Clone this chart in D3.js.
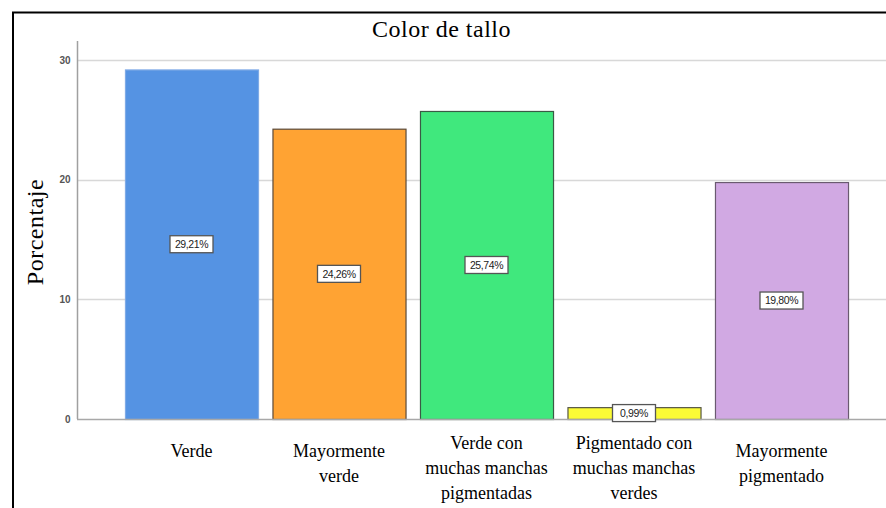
<!DOCTYPE html>
<html>
<head>
<meta charset="utf-8">
<script src="https://cdn.jsdelivr.net/npm/d3@7"></script>
<style>
  html, body { margin: 0; padding: 0; background: #fff; }
  svg { display: block; }
  .serif { font-family: "Liberation Serif", "Times New Roman", serif; }
  .sans { font-family: "Liberation Sans", Arial, sans-serif; }
</style>
</head>
<body>
<script>
const categories = [
  ["Verde"],
  ["Mayormente", "verde"],
  ["Verde con", "muchas manchas", "pigmentadas"],
  ["Pigmentado con", "muchas manchas", "verdes"],
  ["Mayormente", "pigmentado"]
];
const values = [29.21, 24.26, 25.74, 0.99, 19.80];
const valueLabels = ["29,21%", "24,26%", "25,74%", "0,99%", "19,80%"];
const colors = ["#5593e3", "#ffa333", "#40e87d", "#fbfb35", "#d1a9e3"];
const strokes = ["#7faae6", "#5a4a3a", "#3a5a45", "#555544", "#6a5a70"];
const yTicks = [0, 10, 20, 30];

const W = 886, H = 508;
const svg = d3.select("body").append("svg").attr("width", W).attr("height", H);

// frame
svg.append("line").attr("x1", 13).attr("y1", 12).attr("x2", 13).attr("y2", H).attr("stroke", "#000").attr("stroke-width", 2);
svg.append("line").attr("x1", 12).attr("y1", 12.5).attr("x2", W).attr("y2", 12.5).attr("stroke", "#000").attr("stroke-width", 2);

const x = d3.scaleBand()
  .domain(d3.range(categories.length))
  .range([117.75, 855.25])
  .paddingInner(0.098)
  .paddingOuter(0.049);

const y = d3.scaleLinear().domain([0, 30]).range([419, 60]);

// gridlines
svg.append("g").selectAll("line").data(yTicks.filter(d => d > 0)).join("line")
  .attr("x1", 77).attr("x2", W)
  .attr("y1", d => Math.round(y(d)) + 0.5).attr("y2", d => Math.round(y(d)) + 0.5)
  .attr("stroke", "#d8d8d8").attr("stroke-width", 1.5);

// y axis
const yAxis = d3.axisLeft(y).tickValues(yTicks).tickSize(0).tickPadding(7);
const gy = svg.append("g").attr("transform", "translate(77.5,0)").call(yAxis);
gy.select(".domain").remove();
gy.attr("font-family", null);
gy.selectAll("text")
  .attr("class", "sans")
  .style("font-size", "10px").style("font-weight", "bold").attr("fill", "#555");
svg.append("line").attr("x1", 77.5).attr("x2", 77.5).attr("y1", 41).attr("y2", 419)
  .attr("stroke", "#a0a0a0").attr("stroke-width", 1.5);

// bars
svg.append("g").selectAll("rect").data(values).join("rect")
  .attr("x", (d, i) => x(i) + 0.5)
  .attr("y", d => y(d) + 0.5)
  .attr("width", x.bandwidth())
  .attr("height", d => y(0) - y(d))
  .attr("fill", (d, i) => colors[i])
  .attr("stroke", (d, i) => strokes[i])
  .attr("stroke-width", 1.2);

// baseline
svg.append("line").attr("x1", 77).attr("x2", W).attr("y1", 419.5).attr("y2", 419.5)
  .attr("stroke", "#a8a8a8").attr("stroke-width", 1.5);

// value labels
const lab = svg.append("g").selectAll("g").data(values).join("g")
  .attr("transform", (d, i) => `translate(${x(i) + x.bandwidth() / 2},${y(d / 2)})`);
lab.append("rect")
  .attr("x", -21.5).attr("y", -8.5).attr("width", 43).attr("height", 17)
  .attr("fill", "#fff").attr("stroke", "#555").attr("stroke-width", 1.3);
lab.append("text")
  .attr("class", "sans")
  .attr("text-anchor", "middle").attr("dy", "0.36em")
  .style("font-size", "10.5px").attr("fill", "#222")
  .attr("letter-spacing", -0.4)
  .text((d, i) => valueLabels[i]);

// category labels
const cat = svg.append("g").selectAll("text").data(categories).join("text")
  .attr("class", "serif")
  .attr("text-anchor", "middle")
  .style("font-size", "18px").attr("fill", "#000")
  .attr("transform", (d, i) => `translate(${x(i) + x.bandwidth() / 2},${d.length === 3 ? 449 : 457})`);
cat.selectAll("tspan").data(d => d).join("tspan")
  .attr("x", 0).attr("y", (d, j) => j * 25).text(d => d);

// title
svg.append("text").attr("x", 441.5).attr("y", 37)
  .attr("class", "serif")
  .attr("text-anchor", "middle")
  .attr("letter-spacing", 0.5)
  .style("font-size", "24px").attr("fill", "#000").text("Color de tallo");

// y title
svg.append("text").attr("transform", "translate(43,232) rotate(-90)")
  .attr("class", "serif")
  .attr("text-anchor", "middle")
  .attr("letter-spacing", 0.5)
  .style("font-size", "24px").attr("fill", "#000").text("Porcentaje");
</script>
</body>
</html>
